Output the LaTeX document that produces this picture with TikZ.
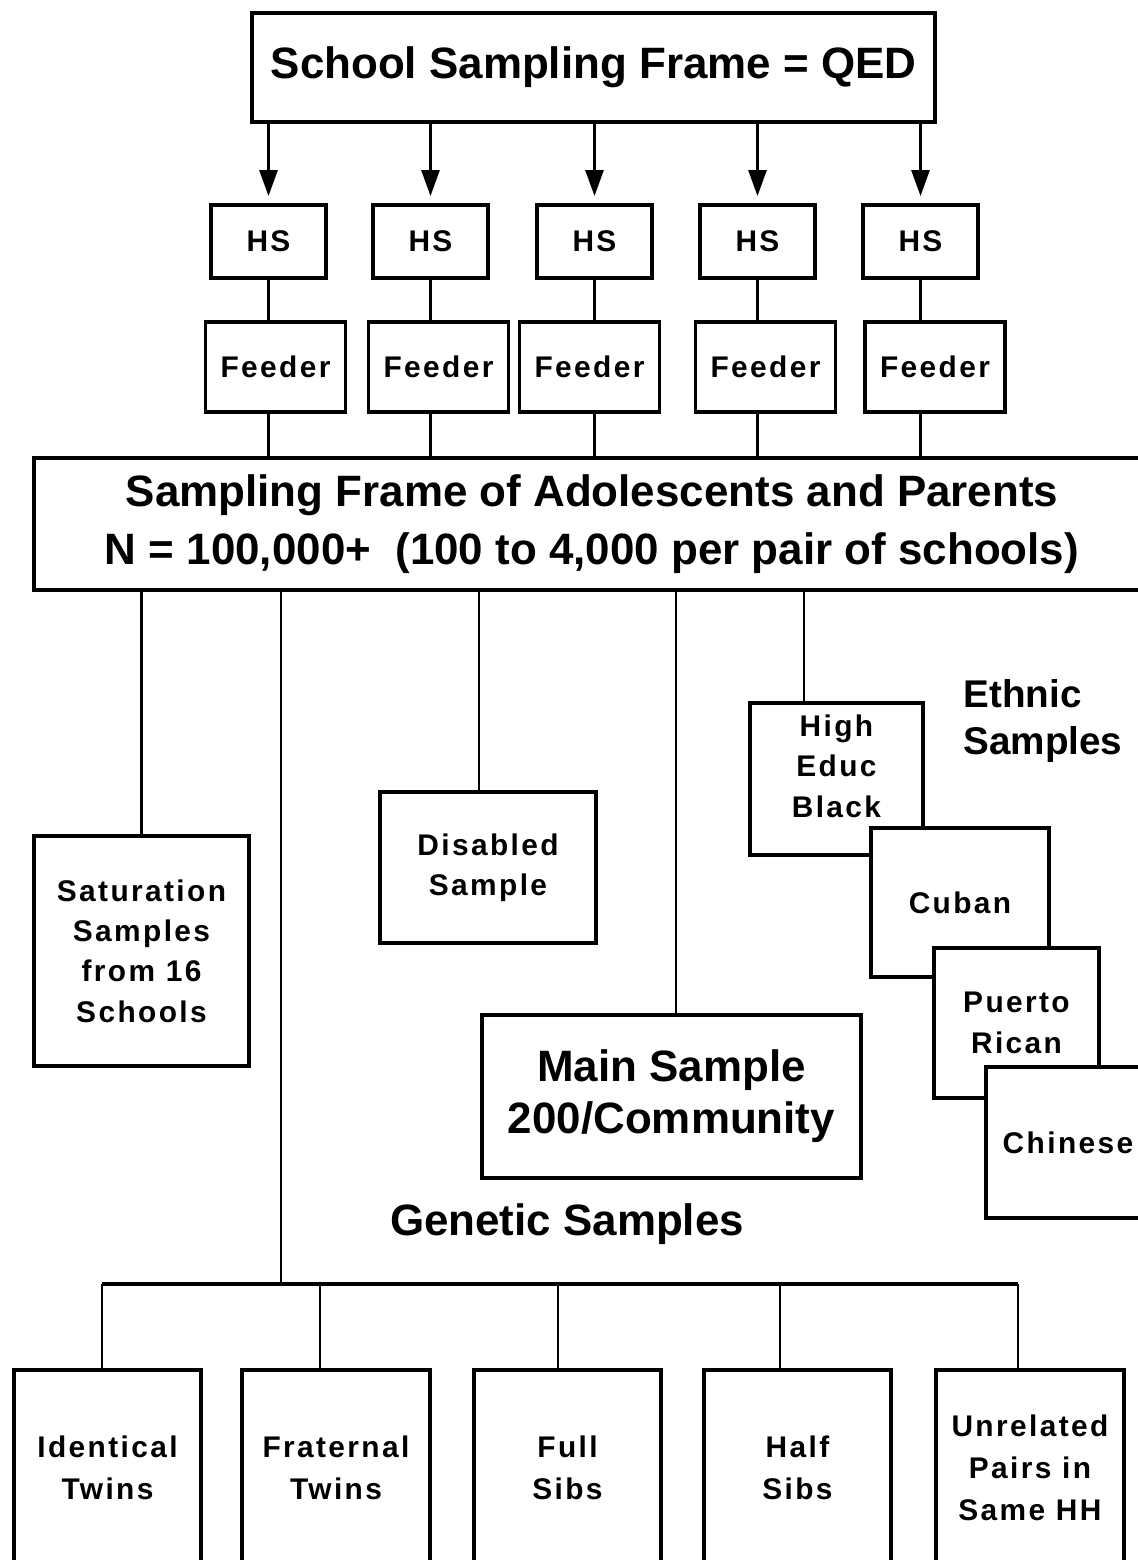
\documentclass[tikz,border=0pt]{standalone}
\usepackage{fontspec}
\setmainfont{Liberation Sans}
\newfontfamily\wide[LetterSpace=8]{Liberation Sans}
\usetikzlibrary{arrows.meta,calc}

\begin{document}
\begin{tikzpicture}[x=0.02cm,y=-0.02cm,>={Triangle[length=0.52cm,width=0.36cm]},
                    line width=1.6pt]
  \tikzstyle{box}=[rectangle,draw=black,fill=white,line width=2.2pt,align=center,inner sep=0pt]
  \tikzstyle{small}=[box,font=\wide\bfseries\fontsize{17}{23}\selectfont]
  \tikzstyle{big}=[box,font=\bfseries\fontsize{25}{33}\selectfont]
  \tikzstyle{heading}=[font=\bfseries\fontsize{25}{29}\selectfont,align=center]

  \clip (0,0) rectangle (1138,1560);
  \fill[white] (0,0) rectangle (1138,1560);

  % schools
  \node[big,minimum width=13.66cm,minimum height=2.18cm] (qed) at (593.5,67.5) {School Sampling Frame = QED};
  \node[big,minimum width=22.32cm,minimum height=2.64cm] (frame) at (592,524)
       {Sampling Frame of Adolescents and Parents\\N = 100,000+\ \ (100 to 4,000 per pair of schools)};

  \foreach \i/\hx/\fx in {1/268.5/275.5, 2/430.5/438.5, 3/594.5/589.5, 4/757.5/765.5, 5/920.5/935}{
    \node[small,minimum width=2.3cm,minimum height=1.46cm] (hs\i) at (\hx,241.5) {HS};
    \node[small,minimum width=2.8cm,minimum height=1.8cm] (fd\i) at (\fx,367) {Feeder};
    \draw[->,shorten >=4pt] (hs\i.north |- qed.south) -- (hs\i.north);
    \draw (hs\i.south) -- (hs\i.south |- fd\i.north);
    \draw (hs\i.south |- fd\i.south) -- (hs\i.south |- frame.north);
  }

  % samples
  \node[small,minimum width=4.3cm,minimum height=4.6cm] (sat) at (141.5,951) {Saturation\\Samples\\from 16\\Schools};
  \node[small,minimum width=4.32cm,minimum height=3.02cm] (dis) at (488,867.5) {Disabled\\Sample};
  \node[big,minimum width=7.58cm,minimum height=3.26cm,font=\bfseries\fontsize{25}{29.5}\selectfont] (main) at (671.5,1096.5) {Main Sample\\200/Community};

  \coordinate (disTop) at ($(dis.north)+(-9,0)$);
  \coordinate (mainTop) at ($(main.north)+(4.5,0)$);
  \draw (sat.north) -- (sat.north |- frame.south);
  \draw (disTop) -- (disTop |- frame.south);
  \draw (mainTop) -- (mainTop |- frame.south);

  % ethnic
  \node[small,minimum width=3.46cm,minimum height=3.04cm,
        label={[font=\wide\bfseries\fontsize{17}{23}\selectfont,align=center,yshift=0.26cm]center:High\\Educ\\Black}]
        (educ) at (836.5,779) {};
  \node[small,minimum width=3.56cm,minimum height=2.98cm] (cuban) at (960,902.5) {Cuban};
  \node[small,minimum width=3.3cm,minimum height=3cm] (puerto) at (1016.5,1023) {Puerto\\Rican};
  \node[small,minimum width=3.28cm,minimum height=3.02cm] (chinese) at (1068,1142.5) {Chinese};
  \node[anchor=west,align=left,inner sep=0pt,font=\bfseries\fontsize{22}{27}\selectfont] (ethnic) at (962,721) {Ethnic\\Samples};
  \coordinate (educTop) at ($(educ.north)+(-32.5,0)$);
  \draw (educTop) -- (educTop |- frame.south);

  % genetic
  \node[heading] (genetic) at (567,1224) {Genetic Samples};
  \coordinate (bus) at (281,1284);
  \draw (bus) -- (bus |- frame.south);
  \foreach \i/\bx/\dx/\txt in {1/107.5/-5.5/{Identical\\Twins}, 2/336/-16/{Fraternal\\Twins},
                              3/567.5/-9.5/{Full\\Sibs}, 4/797.5/-17.5/{Half\\Sibs},
                              5/1030/-12/{Unrelated\\Pairs in\\Same HH}}{
    \node[small,minimum width=3.75cm,minimum height=3.92cm,font=\wide\bfseries\fontsize{17}{24}\selectfont] (tw\i) at (\bx,1468) {\txt};
    \coordinate (twTop\i) at ($(tw\i.north)+(\dx,0)$);
    \draw[line width=1.2pt] (twTop\i) -- (twTop\i |- bus);
  }
  \draw[line width=2.2pt] (twTop1 |- bus) -- (twTop5 |- bus);

\end{tikzpicture}
\end{document}
